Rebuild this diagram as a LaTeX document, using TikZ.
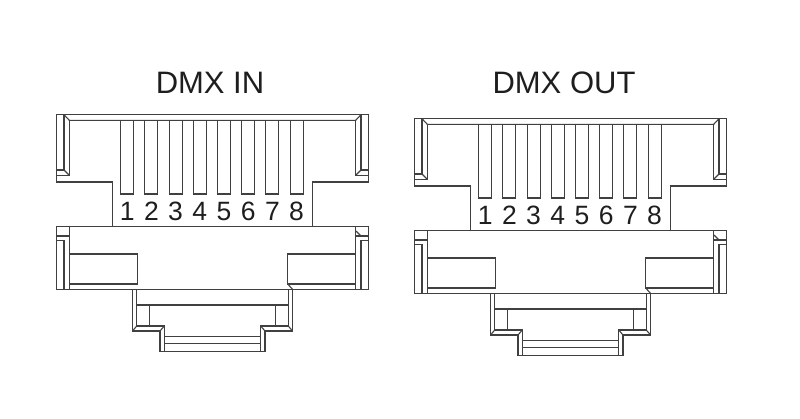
\documentclass[tikz,border=0pt]{standalone}
\usepackage{fontspec}
\setmainfont{Liberation Sans}
\definecolor{lc}{HTML}{404040}
\definecolor{tx}{HTML}{1E1E1E}
\tikzset{
  ln/.style={draw=lc, line width=1.1pt, line join=miter},
  digit/.style={font=\fontsize{26.5}{26.5}\selectfont, text=tx, anchor=base, inner sep=0pt},
  title/.style={font=\fontsize{31}{31}\selectfont, text=tx, anchor=base, inner sep=0pt},
  connector/.pic={
    % upper body outline
    \draw[ln] (112.7,226.7) -- (112.7,182) -- (56.7,182) -- (56.7,114.7) -- (368.3,114.7) -- (368.3,182) -- (312.3,182) -- (312.3,226.7);
    % upper body inner rim
    \draw[ln] (64,114.7) -- (69.3,120.3) -- (355.7,120.3) -- (361,114.7);
    \draw[ln] (64,114.7) -- (64,170) -- (56.7,170);
    \draw[ln] (69.3,120.3) -- (69.3,175.3) -- (56.7,175.3);
    \draw[ln] (64,170) -- (69.3,175.3);
    \draw[ln] (361,114.7) -- (361,170) -- (368.3,170);
    \draw[ln] (355.7,120.3) -- (355.7,175.3) -- (368.3,175.3);
    \draw[ln] (361,170) -- (355.7,175.3);
    % pins and numbers
    \foreach \i in {1,...,8} {
      \draw[ln] ({120.7+24.2*(\i-1)},120.7) rectangle ++(13,73.3);
      \node[digit] (-d\i) at ({127.2+24.2*(\i-1)},220.7) {\i};
    }
    % lower body
    \draw[ln] (56.7,226.7) rectangle (368.3,289.3);
    \draw[ln] (56.7,236) -- (69.3,236);
    \draw[ln] (56.7,240.7) -- (64,240.7) -- (64,289.3);
    \draw[ln] (69.3,226.7) -- (69.3,289.3);
    \draw[ln] (368.3,236) -- (355.7,236);
    \draw[ln] (368.3,240.7) -- (361,240.7) -- (361,289.3);
    \draw[ln] (355.7,226.7) -- (355.7,289.3);
    \draw[ln] (356,231) -- (361,236);
    \draw[ln] (69.3,254) rectangle (137.3,284);
    \draw[ln] (287.7,254) rectangle (355.7,284);
    \draw[ln] (287.7,284) -- (292.5,289.3);
    % bottom tab
    \draw[ln] (132.5,289.3) -- (132.5,331) -- (160,331) -- (160,351.5) -- (265,351.5) -- (265,331) -- (292.5,331) -- (292.5,289.3);
    \draw[ln] (136.7,289.3) -- (136.7,326) -- (164.3,326) -- (164.3,351.5);
    \draw[ln] (288.3,289.3) -- (288.3,326) -- (260.7,326) -- (260.7,351.5);
    \draw[ln] (132.5,331) -- (136.7,326);
    \draw[ln] (160,331) -- (164.3,326);
    \draw[ln] (292.5,331) -- (288.3,326);
    \draw[ln] (265,331) -- (260.7,326);
    \draw[ln] (136.7,305) -- (288.3,305);
    \draw[ln] (149.3,305) -- (149.3,326);
    \draw[ln] (275.7,305) -- (275.7,326);
    \draw[ln] (164.3,336.7) -- (260.7,336.7);
    \draw[ln] (164.3,343.3) -- (260.7,343.3);
  }
}
\begin{document}
\begin{tikzpicture}[x=1pt,y=-1pt]
  \useasboundingbox (0,0) rectangle (800,418);
  \node[title] (tin) at (210,93.3) {DMX IN};
  \node[title] (tout) at (564,93.3) {DMX OUT};
  \pic (in) at (0,0) {connector};
  \pic (out) at (358,4) {connector};
\end{tikzpicture}
\end{document}
